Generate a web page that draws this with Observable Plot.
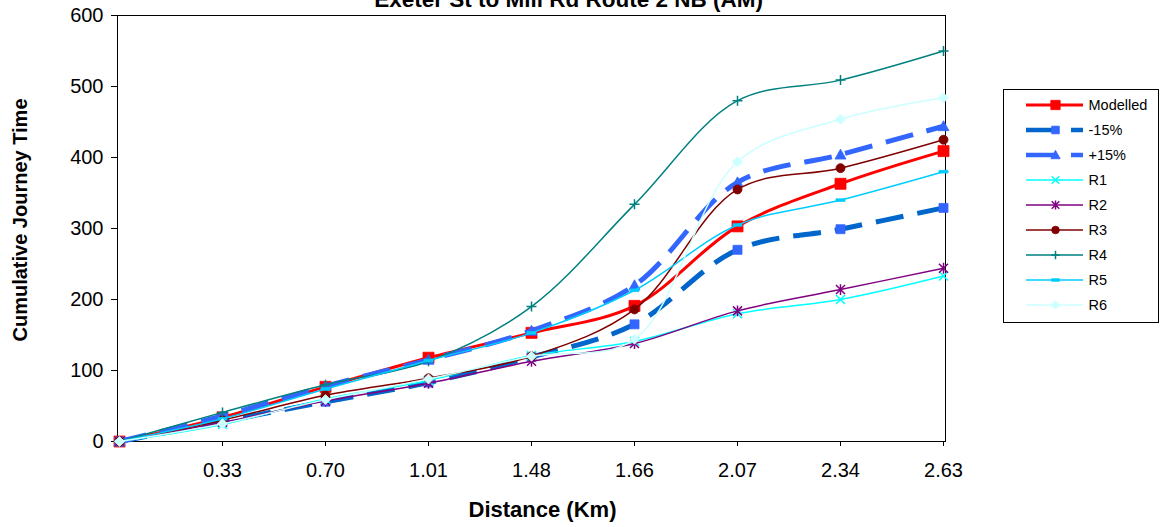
<!DOCTYPE html>
<html>
<head>
<meta charset="utf-8">
<script src="https://cdn.jsdelivr.net/npm/d3@7"></script>
<script src="https://cdn.jsdelivr.net/npm/@observablehq/plot@0.6"></script>
<style>
  body { margin: 0; background: #fff; font-family: "Liberation Sans", Arial, sans-serif; }
  #wrap { position: relative; width: 1162px; height: 527px; overflow: hidden; }
  #legend { position: absolute; left: 1003px; top: 89px; width: 156px; height: 234px; border: 1px solid #000; box-sizing: border-box; background: #fff; }
  #legend svg, #chart svg { display: block; }
  svg text { font-family: "Liberation Sans", Arial, sans-serif; }
</style>
</head>
<body>
<div id="wrap">
  <div id="chart"></div>
  <div id="legend"></div>
</div>
<script>
// ---- data ----
const titleText = "Exeter St to Mill Rd Route 2 NB (AM)";
const xTitle = "Distance (Km)";
const yTitle = "Cumulative Journey Time";
const distances = ["0", "0.33", "0.70", "1.01", "1.48", "1.66", "2.07", "2.34", "2.63"];
const yTicks = [0, 100, 200, 300, 400, 500, 600];
const seriesNames = ["Modelled", "-15%", "+15%", "R1", "R2", "R3", "R4", "R5", "R6"];
const modelled = [0, 34, 77, 118, 153, 191, 303, 363, 409];
const minus15 = [0, 28, 56, 83, 119, 165, 270, 299, 329];
const plus15 = [0, 36, 78, 115, 156, 220, 365, 404, 444];
const r1 = [0, 24, 60, 86, 121, 141, 180, 200, 233];
const r2 = [0, 27, 57, 82, 113, 138, 184, 214, 244];
const r3 = [0, 30, 65, 89, 120, 186, 355, 385, 425];
const r4 = [0, 41, 80, 113, 190, 334, 480, 509, 550];
const r5 = [0, 32, 74, 114, 153, 213, 305, 340, 380];
const r6 = [0, 25, 59, 88, 120, 144, 394, 454, 484];
const seriesValues = [modelled, minus15, plus15, r1, r2, r3, r4, r5, r6];

const FONT = "'Liberation Sans', Arial, sans-serif";

// ---- custom marker symbols (half-size = r) ----
const half = s => Math.sqrt(s / Math.PI);
const SYM = {
  square: {draw(c, s) { const r = half(s); c.rect(-r, -r, 2 * r, 2 * r); }},
  triangle: {draw(c, s) { const r = half(s); c.moveTo(0, -r); c.lineTo(r, r * 0.8); c.lineTo(-r, r * 0.8); c.closePath(); }},
  times: {draw(c, s) { const r = half(s); c.moveTo(-r, -r); c.lineTo(r, r); c.moveTo(r, -r); c.lineTo(-r, r); }},
  asterisk: {draw(c, s) { const r = half(s); c.moveTo(-r, -r); c.lineTo(r, r); c.moveTo(r, -r); c.lineTo(-r, r); c.moveTo(0, -r * 1.2); c.lineTo(0, r * 1.2); }},
  circle: {draw(c, s) { const r = half(s); c.moveTo(r, 0); c.arc(0, 0, r, 0, 2 * Math.PI); }},
  plus: {draw(c, s) { const r = half(s); c.moveTo(-r, 0); c.lineTo(r, 0); c.moveTo(0, -r); c.lineTo(0, r); }},
  dash: {draw(c, s) { const r = half(s); c.rect(-r, -1.3, 2 * r, 2.6); }},
  diamond: {draw(c, s) { const r = half(s); c.moveTo(0, -r); c.lineTo(r, 0); c.lineTo(0, r); c.lineTo(-r, 0); c.closePath(); }}
};

// ---- styles per series ----
const styles = {
  "Modelled": {line: "#FF0000", mark: "#FF0000", width: 3, dash: null, sym: "square", r: 5.5, filled: true},
  "-15%": {line: "#0066CC", mark: "#3366FF", width: 5, dash: "28,14", sym: "square", r: 4.5, filled: true},
  "+15%": {line: "#3366FF", mark: "#3366FF", width: 5, dash: "28,14", sym: "triangle", r: 5.5, filled: true},
  "R1": {line: "#00FFFF", mark: "#00FFFF", width: 1.5, dash: null, sym: "times", r: 4.5, filled: false},
  "R2": {line: "#800080", mark: "#800080", width: 1.5, dash: null, sym: "asterisk", r: 4.5, filled: false},
  "R3": {line: "#800000", mark: "#800000", width: 1.5, dash: null, sym: "circle", r: 4.5, filled: true},
  "R4": {line: "#008080", mark: "#008080", width: 1.5, dash: null, sym: "plus", r: 5, filled: false},
  "R5": {line: "#00CCFF", mark: "#00CCFF", width: 1.5, dash: null, sym: "dash", r: 4.5, filled: true},
  "R6": {line: "#CCFFFF", mark: "#CCFFFF", width: 1.5, dash: null, sym: "diamond", r: 5, filled: true}
};

const table = seriesNames.flatMap((name, i) =>
  distances.map((d, j) => ({series: name, d, v: seriesValues[i][j]})));

const seriesMarks = seriesNames.flatMap(name => {
  const st = styles[name];
  const rows = table.filter(r => r.series === name);
  return [
    Plot.line(rows, {x: "d", y: "v", curve: "catmull-rom", stroke: st.line, strokeWidth: st.width,
      strokeDasharray: st.dash || undefined, strokeLinecap: "butt", strokeLinejoin: "round"}),
    Plot.dot(rows, {x: "d", y: "v", symbol: SYM[st.sym], r: st.r,
      fill: st.filled ? st.mark : "none", stroke: st.mark, strokeWidth: st.filled ? 0.8 : 1.5})
  ];
});

const chart = Plot.plot({
  width: 1162,
  height: 527,
  marginLeft: 117,
  marginRight: 217,
  marginTop: 15,
  marginBottom: 86,
  style: {fontFamily: FONT, fontSize: "20px", color: "#000", background: "#fff", overflow: "visible"},
  x: {type: "point", domain: distances, padding: 0},
  y: {domain: [0, 600]},
  marks: [
    Plot.axisX({tickSize: 5, tickPadding: 16, tickFormat: d => d === "0" ? "" : d, label: null, fontSize: 20, fontFamily: FONT, fontVariant: "normal"}),
    Plot.axisY({ticks: yTicks, tickSize: 6, tickPadding: 8, label: null, fontSize: 20, fontFamily: FONT, fontVariant: "normal"}),
    Plot.frame({stroke: "#000", strokeWidth: 1}),
    ...seriesMarks,
    Plot.text([titleText], {frameAnchor: "top", dx: 37, dy: -15.5, textAnchor: "middle", lineAnchor: "middle", fontWeight: "bold", fontSize: 22.5, fontFamily: FONT}),
    Plot.text([xTitle], {frameAnchor: "bottom", dx: 11, dy: 68, textAnchor: "middle", lineAnchor: "middle", fontWeight: "bold", fontSize: 22, fontFamily: FONT}),
    Plot.text([yTitle], {frameAnchor: "left", dx: -97, dy: -8.5, rotate: -90, textAnchor: "middle", lineAnchor: "middle", fontWeight: "bold", fontSize: 20, fontFamily: FONT})
  ]
});
document.getElementById("chart").appendChild(chart);

// ---- legend (drawn with Plot) ----
const legendMarks = seriesNames.flatMap(name => {
  const st = styles[name];
  return [
    Plot.ruleY([name], {y: d => d, x1: 22, x2: 79, stroke: st.line, strokeWidth: Math.min(st.width, 4.5),
      strokeDasharray: st.dash ? "30,15" : undefined}),
    Plot.dot([name], {y: d => d, x: 51, symbol: SYM[st.sym], r: st.r * 0.85,
      fill: st.filled ? st.mark : "none", stroke: st.mark, strokeWidth: st.filled ? 0.8 : 1.5}),
    Plot.text([name], {y: d => d, x: 84, textAnchor: "start", fontSize: 14.5, fill: "#000", fontFamily: FONT})
  ];
});
const legend = Plot.plot({
  width: 154, height: 232, margin: 0,
  style: {fontFamily: FONT, background: "transparent"},
  x: {domain: [0, 154], range: [0, 154]},
  y: {type: "band", domain: seriesNames, range: [-1, 230], padding: 0},
  axis: null,
  marks: legendMarks
});
document.getElementById("legend").appendChild(legend);
</script>
</body>
</html>
